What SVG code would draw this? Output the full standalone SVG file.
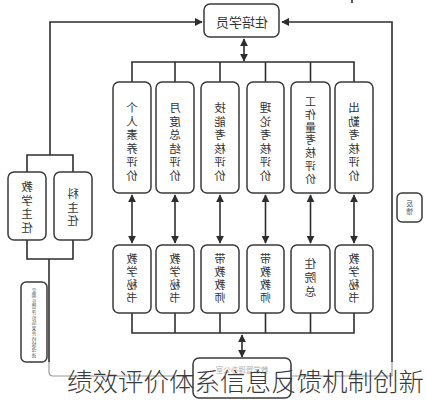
<svg xmlns="http://www.w3.org/2000/svg" width="427" height="400" viewBox="0 0 427 400">
<defs>
<style>
.box{fill:#fff;stroke:#3a3a3a;stroke-width:1.5}
.ln{fill:none;stroke:#2e2e2e;stroke-width:1.6}
.gl{fill:none;stroke:#9a9a9a;stroke-width:1.2}
.t{font-family:"Noto Sans CJK SC","Liberation Sans",sans-serif;font-size:11.5px;fill:#333;text-anchor:middle}
.t2{font-size:11px}
.ts{font-family:"Noto Sans CJK SC","Liberation Sans",sans-serif;font-size:4.6px;fill:#555;text-anchor:middle}
.cap{font-family:"Noto Sans CJK SC","Liberation Sans",sans-serif;font-size:25.5px;font-weight:300;fill:#3a3a3a;text-anchor:middle}
</style>
<marker id="ah" viewBox="0 0 10 10" refX="9" refY="5" markerWidth="5" markerHeight="5" orient="auto-start-reverse">
<path d="M0,0 L10,5 L0,10 z" fill="#2e2e2e"/>
</marker>
</defs>
<rect width="427" height="400" fill="#fff"/>
<g id="connectors">
<polyline class="ln" points="50,155 50,22 202,22" marker-end="url(#ah)"/>
<polyline class="ln" points="392,362 392,22 282,22" marker-end="url(#ah)"/>
<line class="ln" x1="244" y1="39" x2="244" y2="61" marker-start="url(#ah)" marker-end="url(#ah)"/>
<polyline class="ln" points="132,82 132,62 354,62 354,82"/>
<line class="ln" x1="175" y1="62" x2="175" y2="82"/>
<line class="ln" x1="220" y1="62" x2="220" y2="82"/>
<line class="ln" x1="265.5" y1="62" x2="265.5" y2="82"/>
<line class="ln" x1="310.5" y1="62" x2="310.5" y2="82"/>
<line class="ln" x1="132" y1="195" x2="132" y2="243" marker-start="url(#ah)" marker-end="url(#ah)"/>
<line class="ln" x1="175" y1="195" x2="175" y2="243" marker-start="url(#ah)" marker-end="url(#ah)"/>
<line class="ln" x1="220" y1="195" x2="220" y2="243" marker-start="url(#ah)" marker-end="url(#ah)"/>
<line class="ln" x1="265.5" y1="195" x2="265.5" y2="243" marker-start="url(#ah)" marker-end="url(#ah)"/>
<line class="ln" x1="310.5" y1="195" x2="310.5" y2="243" marker-start="url(#ah)" marker-end="url(#ah)"/>
<line class="ln" x1="354" y1="195" x2="354" y2="243" marker-start="url(#ah)" marker-end="url(#ah)"/>
<polyline class="ln" points="132,313 132,333 354,333 354,313"/>
<line class="ln" x1="175" y1="313" x2="175" y2="333"/>
<line class="ln" x1="220" y1="313" x2="220" y2="333"/>
<line class="ln" x1="265.5" y1="313" x2="265.5" y2="333"/>
<line class="ln" x1="310.5" y1="313" x2="310.5" y2="333"/>
<line class="ln" x1="242" y1="335" x2="242" y2="357" marker-start="url(#ah)" marker-end="url(#ah)"/>
<polyline class="ln" points="27,172 27,155 73,155 73,172"/>
<polyline class="ln" points="27,240 27,259 73,259 73,240"/>
<line class="ln" x1="49" y1="259" x2="49" y2="362"/>
<path class="gl" d="M49,362 L49,372 Q49,376 53,376 L193,376"/>
<path class="gl" d="M392,362 L392,376 L291,376"/>
<line class="ln" x1="352" y1="0" x2="352" y2="3"/>
</g>
<g id="n-top">
<rect class="box" x="204" y="4" width="75" height="33" rx="6"/>
<text class="t" x="242" y="27" style="font-size:13px" transform="matrix(-1 0 0 1 484 0)">住培学员</text>
</g>
<g id="n-e1">
<rect class="box" x="113" y="82" width="38" height="111" rx="6"/>
<text class="t" transform="matrix(-1 0 0 1 264 0)"><tspan x="132" y="112">个</tspan><tspan x="132" dy="13.5">人</tspan><tspan x="132" dy="13.5">素</tspan><tspan x="132" dy="13.5">养</tspan><tspan x="132" dy="13.5">评</tspan><tspan x="132" dy="13.5">价</tspan></text>
</g>
<g id="n-e2">
<rect class="box" x="156" y="82" width="38" height="111" rx="6"/>
<text class="t" transform="matrix(-1 0 0 1 350 0)"><tspan x="175" y="112">月</tspan><tspan x="175" dy="13.5">度</tspan><tspan x="175" dy="13.5">总</tspan><tspan x="175" dy="13.5">结</tspan><tspan x="175" dy="13.5">评</tspan><tspan x="175" dy="13.5">价</tspan></text>
</g>
<g id="n-e3">
<rect class="box" x="201" y="82" width="38" height="111" rx="6"/>
<text class="t" transform="matrix(-1 0 0 1 440 0)"><tspan x="220" y="112">技</tspan><tspan x="220" dy="13.5">能</tspan><tspan x="220" dy="13.5">考</tspan><tspan x="220" dy="13.5">核</tspan><tspan x="220" dy="13.5">评</tspan><tspan x="220" dy="13.5">价</tspan></text>
</g>
<g id="n-e4">
<rect class="box" x="247" y="82" width="37" height="111" rx="6"/>
<text class="t" transform="matrix(-1 0 0 1 531 0)"><tspan x="265.5" y="112">理</tspan><tspan x="265.5" dy="13.5">论</tspan><tspan x="265.5" dy="13.5">考</tspan><tspan x="265.5" dy="13.5">核</tspan><tspan x="265.5" dy="13.5">评</tspan><tspan x="265.5" dy="13.5">价</tspan></text>
</g>
<g id="n-e5">
<rect class="box" x="291" y="82" width="39" height="111" rx="6"/>
<text class="t t2" transform="matrix(-1 0 0 1 621 0)"><tspan x="310.5" y="106">工</tspan><tspan x="310.5" dy="12.8">作</tspan><tspan x="310.5" dy="12.8">量</tspan><tspan x="310.5" dy="12.8">考</tspan><tspan x="310.5" dy="12.8">核</tspan><tspan x="310.5" dy="12.8">评</tspan><tspan x="310.5" dy="12.8">价</tspan></text>
</g>
<g id="n-e6">
<rect class="box" x="335" y="82" width="38" height="111" rx="6"/>
<text class="t" transform="matrix(-1 0 0 1 708 0)"><tspan x="354" y="112">出</tspan><tspan x="354" dy="13.5">勤</tspan><tspan x="354" dy="13.5">考</tspan><tspan x="354" dy="13.5">核</tspan><tspan x="354" dy="13.5">评</tspan><tspan x="354" dy="13.5">价</tspan></text>
</g>
<g id="n-r1">
<rect class="box" x="113" y="245" width="38" height="68" rx="6"/>
<text class="t t2" transform="matrix(-1 0 0 1 264 0)"><tspan x="132" y="263">教</tspan><tspan x="132" dy="13">学</tspan><tspan x="132" dy="13">秘</tspan><tspan x="132" dy="13">书</tspan></text>
</g>
<g id="n-r2">
<rect class="box" x="156" y="245" width="38" height="68" rx="6"/>
<text class="t t2" transform="matrix(-1 0 0 1 350 0)"><tspan x="175" y="263">教</tspan><tspan x="175" dy="13">学</tspan><tspan x="175" dy="13">秘</tspan><tspan x="175" dy="13">书</tspan></text>
</g>
<g id="n-r3">
<rect class="box" x="201" y="245" width="38" height="68" rx="6"/>
<text class="t t2" transform="matrix(-1 0 0 1 440 0)"><tspan x="220" y="263">带</tspan><tspan x="220" dy="13">教</tspan><tspan x="220" dy="13">教</tspan><tspan x="220" dy="13">师</tspan></text>
</g>
<g id="n-r4">
<rect class="box" x="247" y="245" width="37" height="68" rx="6"/>
<text class="t t2" transform="matrix(-1 0 0 1 531 0)"><tspan x="265.5" y="263">带</tspan><tspan x="265.5" dy="13">教</tspan><tspan x="265.5" dy="13">教</tspan><tspan x="265.5" dy="13">师</tspan></text>
</g>
<g id="n-r5">
<rect class="box" x="291" y="245" width="39" height="68" rx="6"/>
<text class="t" transform="matrix(-1 0 0 1 621 0)"><tspan x="310.5" y="268">住</tspan><tspan x="310.5" dy="14">院</tspan><tspan x="310.5" dy="14">总</tspan></text>
</g>
<g id="n-r6">
<rect class="box" x="335" y="245" width="38" height="68" rx="6"/>
<text class="t t2" transform="matrix(-1 0 0 1 708 0)"><tspan x="354" y="263">教</tspan><tspan x="354" dy="13">学</tspan><tspan x="354" dy="13">秘</tspan><tspan x="354" dy="13">书</tspan></text>
</g>
<g id="n-l1">
<rect class="box" x="8" y="172" width="38" height="68" rx="6"/>
<text class="t" transform="matrix(-1 0 0 1 54 0)"><tspan x="27" y="191">教</tspan><tspan x="27" dy="13.5">学</tspan><tspan x="27" dy="13.5">主</tspan><tspan x="27" dy="13.5">任</tspan></text>
</g>
<g id="n-l2">
<rect class="box" x="54" y="172" width="38" height="68" rx="6"/>
<text class="t" transform="matrix(-1 0 0 1 146 0)"><tspan x="73" y="198">科</tspan><tspan x="73" dy="13.5">主</tspan><tspan x="73" dy="13.5">任</tspan></text>
</g>
<g id="n-note-l">
<rect class="box" x="21" y="282" width="26" height="80" rx="5" stroke-width="1.2"/>
<text class="ts" transform="matrix(-1 0 0 1 68 0)"><tspan x="34" y="292">定</tspan><tspan x="34" dy="5.4">期</tspan><tspan x="34" dy="5.4">反</tspan><tspan x="34" dy="5.4">馈</tspan><tspan x="34" dy="5.4">评</tspan><tspan x="34" dy="5.4">价</tspan><tspan x="34" dy="5.4">结</tspan><tspan x="34" dy="5.4">果</tspan><tspan x="34" dy="5.4">并</tspan><tspan x="34" dy="5.4">持</tspan><tspan x="34" dy="5.4">续</tspan><tspan x="34" dy="5.4">改</tspan><tspan x="34" dy="5.4">进</tspan></text>
</g>
<g id="n-note-r">
<rect class="box" x="397" y="193" width="25" height="29" rx="5" stroke-width="1.2"/>
<text class="ts" style="font-size:7px" transform="matrix(-1 0 0 1 819 0)"><tspan x="409.5" y="206">反</tspan><tspan x="409.5" dy="8.2">馈</tspan></text>
</g>
<g id="n-bottom">
<rect class="box" x="193" y="358" width="98" height="40" rx="6" stroke="#8a8a8a" stroke-width="1.2"/>
<text class="t" style="font-size:7.5px;fill:#b0b0b0" transform="matrix(-1 0 0 1 484 0)" x="242" y="373">教学管理办公室</text>
</g>
<text class="cap" x="245.5" y="391">绩效评价体系信息反馈机制创新</text>
</svg>
